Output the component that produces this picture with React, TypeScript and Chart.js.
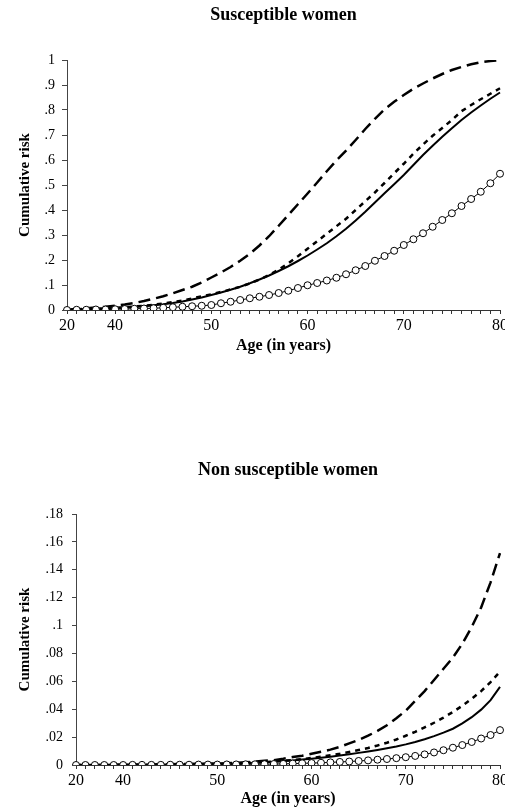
import React, { useEffect, useRef } from "react";
import { Chart, registerables } from "chart.js";

Chart.register(...registerables);

// Categories (ages). The x axis is categorical: 20, then every year 36..80.
const AGES = [
  "20", "36", "37", "38", "39", "40", "41", "42", "43", "44", "45", "46", "47", "48", "49",
  "50", "51", "52", "53", "54", "55", "56", "57", "58", "59", "60", "61", "62", "63", "64",
  "65", "66", "67", "68", "69", "70", "71", "72", "73", "74", "75", "76", "77", "78", "79", "80",
];
const X_TICK_LABELS = ["20", "40", "50", "60", "70", "80"];

// ---- Susceptible women ----
const SUSC_LONG_DASH = [
  0, 0.005, 0.007, 0.01, 0.013, 0.017, 0.022, 0.028, 0.036, 0.045, 0.055, 0.067, 0.08, 0.093, 0.11,
  0.13, 0.15, 0.172, 0.197, 0.225, 0.258, 0.295, 0.337, 0.38, 0.423, 0.466, 0.51, 0.555, 0.598, 0.637,
  0.68, 0.724, 0.765, 0.803, 0.833, 0.86, 0.885, 0.906, 0.926, 0.944, 0.96, 0.972, 0.983, 0.991, 0.996, 0.999,
];
const SUSC_SHORT_DASH = [
  0, 0.003, 0.004, 0.005, 0.007, 0.009, 0.011, 0.014, 0.017, 0.021, 0.026, 0.032, 0.038, 0.046, 0.055,
  0.063, 0.072, 0.082, 0.093, 0.106, 0.122, 0.14, 0.162, 0.187, 0.215, 0.245, 0.275, 0.305, 0.335, 0.365,
  0.4, 0.435, 0.47, 0.508, 0.547, 0.585, 0.625, 0.662, 0.697, 0.728, 0.76, 0.795, 0.82, 0.843, 0.865, 0.887,
];
const SUSC_SOLID = [
  0, 0.003, 0.004, 0.005, 0.006, 0.008, 0.01, 0.012, 0.015, 0.019, 0.023, 0.028, 0.034, 0.042, 0.05,
  0.06, 0.07, 0.081, 0.093, 0.107, 0.122, 0.138, 0.156, 0.175, 0.196, 0.218, 0.242, 0.267, 0.295, 0.325,
  0.358, 0.393, 0.43, 0.467, 0.503, 0.54, 0.58, 0.62, 0.657, 0.693, 0.727, 0.76, 0.79, 0.818, 0.845, 0.87,
];
const SUSC_CIRCLES = [
  0, 0.001, 0.001, 0.002, 0.002, 0.003, 0.004, 0.005, 0.006, 0.007, 0.009, 0.011, 0.013, 0.015, 0.017,
  0.02, 0.027, 0.033, 0.04, 0.047, 0.053, 0.06, 0.068, 0.077, 0.088, 0.099, 0.108, 0.118, 0.129, 0.143,
  0.159, 0.176, 0.197, 0.216, 0.237, 0.26, 0.283, 0.307, 0.333, 0.36, 0.387, 0.416, 0.444, 0.473, 0.507, 0.545,
];

// ---- Non susceptible women ----
const NONSUSC_LONG_DASH = [
  0, 0, 0, 0, 0, 0.0001, 0.0002, 0.0003, 0.0004, 0.0005, 0.0006, 0.0007, 0.0008, 0.0009, 0.001,
  0.0011, 0.0013, 0.0016, 0.002, 0.0025, 0.003, 0.0035, 0.0045, 0.0057, 0.0066, 0.008, 0.0095, 0.011, 0.013, 0.0155,
  0.018, 0.021, 0.0245, 0.0285, 0.0335, 0.039, 0.046, 0.053, 0.061, 0.069, 0.077, 0.087, 0.099, 0.113, 0.131, 0.152,
];
const NONSUSC_SHORT_DASH = [
  0, 0, 0, 0, 0.0001, 0.0001, 0.0001, 0.0002, 0.0002, 0.0003, 0.0003, 0.0004, 0.0005, 0.0006, 0.0007,
  0.0008, 0.001, 0.0012, 0.0014, 0.0017, 0.002, 0.0025, 0.003, 0.0036, 0.0043, 0.005, 0.006, 0.007, 0.008, 0.0093,
  0.0107, 0.0122, 0.014, 0.016, 0.0183, 0.021, 0.0238, 0.027, 0.0303, 0.034, 0.038, 0.0425, 0.0475, 0.053, 0.0595, 0.067,
];
const NONSUSC_SOLID = [
  0, 0, 0, 0, 0.0001, 0.0001, 0.0001, 0.0002, 0.0002, 0.0003, 0.0003, 0.0004, 0.0005, 0.0006, 0.0007,
  0.0008, 0.0009, 0.0011, 0.0013, 0.0016, 0.002, 0.0024, 0.0028, 0.0033, 0.0039, 0.0045, 0.0052, 0.006, 0.0068, 0.0077,
  0.0087, 0.0097, 0.0108, 0.012, 0.0133, 0.0148, 0.0165, 0.0185, 0.0207, 0.0232, 0.026, 0.0298, 0.0343, 0.0397, 0.0465, 0.056,
];
const NONSUSC_CIRCLES = [
  0, 0, 0, 0, 0, 0, 0.0001, 0.0001, 0.0001, 0.0001, 0.0002, 0.0002, 0.0002, 0.0003, 0.0003,
  0.0003, 0.0004, 0.0004, 0.0005, 0.0005, 0.0006, 0.0007, 0.0008, 0.001, 0.0012, 0.0014, 0.0016, 0.0019, 0.0022, 0.0025,
  0.0029, 0.0033, 0.0038, 0.0043, 0.0049, 0.0056, 0.0065, 0.0076, 0.009, 0.0106, 0.0124, 0.0143, 0.0165, 0.019, 0.0215, 0.025,
];

const SERIF = '"Liberation Serif", "Times New Roman", Times, serif';

type Panel = {
  title: string;
  longDash: number[];
  shortDash: number[];
  solid: number[];
  circles: number[];
  yMax: number;
  yStep: number;
  titleTop: number;
  titleBottom: number;
  yAxisWidth: number;
  yTickLen: number;
  yTickPad: number;
  xAxisHeight: number;
  xTitleBottom: number;
};

function fmtTick(v: number): string {
  if (Math.abs(v) < 1e-9) return "0";
  if (Math.abs(v - 1) < 1e-9) return "1";
  return String(parseFloat(Number(v).toFixed(3))).replace(/^0/, "");
}

function buildConfig(p: Panel): any {
  return {
    type: "line",
    data: {
      labels: AGES,
      datasets: [
        {
          data: p.circles,
          borderColor: "#000",
          borderWidth: 1,
          pointRadius: 3.5,
          pointStyle: "circle",
          pointBackgroundColor: "#fff",
          pointBorderColor: "#000",
          pointBorderWidth: 1,
          tension: 0,
          fill: false,
        },
        {
          data: p.solid,
          borderColor: "#000",
          borderWidth: 2,
          pointRadius: 0,
          tension: 0,
          fill: false,
        },
        {
          data: p.shortDash,
          borderColor: "#000",
          borderWidth: 2.5,
          borderDash: [5, 5],
          pointRadius: 0,
          tension: 0,
          fill: false,
        },
        {
          data: p.longDash,
          borderColor: "#000",
          borderWidth: 2.5,
          borderDash: [12, 6],
          pointRadius: 0,
          tension: 0,
          fill: false,
        },
      ],
    },
    options: {
      animation: false,
      responsive: false,
      maintainAspectRatio: false,
      events: [],
      layout: { padding: { left: 0, right: 5, top: 0, bottom: 0 } },
      plugins: {
        legend: { display: false },
        tooltip: { enabled: false },
        title: {
          display: true,
          fullSize: false,
          text: p.title,
          color: "#000",
          font: { family: SERIF, size: 18, weight: "bold", lineHeight: 1.2 },
          padding: { top: p.titleTop, bottom: p.titleBottom },
        },
      },
      scales: {
        x: {
          type: "category",
          offset: false,
          grid: {
            drawOnChartArea: false,
            drawTicks: true,
            tickLength: 4,
            color: "#333",
            lineWidth: 1,
          },
          border: { display: true, color: "#333", width: 1 },
          ticks: {
            autoSkip: false,
            maxRotation: 0,
            minRotation: 0,
            padding: 2,
            color: "#000",
            font: { family: SERIF, size: 16 },
            callback: (_v: any, i: number) => (X_TICK_LABELS.includes(AGES[i]) ? AGES[i] : ""),
          },
          title: {
            display: true,
            text: "Age (in years)",
            color: "#000",
            font: { family: SERIF, size: 16, weight: "bold", lineHeight: 1.2 },
            padding: { top: 0, bottom: p.xTitleBottom },
          },
          afterFit: (s: any) => {
            s.height = p.xAxisHeight;
            s.paddingLeft = 0;
            s.paddingRight = 0;
          },
        },
        y: {
          min: 0,
          max: p.yMax,
          grid: {
            drawOnChartArea: false,
            drawTicks: true,
            tickLength: p.yTickLen,
            color: "#444",
            lineWidth: 1,
          },
          border: { display: true, color: "#444", width: 1 },
          ticks: {
            stepSize: p.yStep,
            padding: p.yTickPad,
            color: "#000",
            font: { family: SERIF, size: 14 },
            callback: (v: any) => fmtTick(Number(v)),
          },
          title: {
            display: true,
            text: "Cumulative risk",
            color: "#000",
            font: { family: SERIF, size: 15, weight: "bold", lineHeight: 1.2 },
            padding: { top: 16, bottom: 0 },
          },
          afterFit: (s: any) => {
            s.width = p.yAxisWidth;
            s.paddingTop = 0;
            s.paddingBottom = 0;
          },
        },
      },
    },
  };
}

const TOP_PANEL: Panel = {
  title: "Susceptible women",
  longDash: SUSC_LONG_DASH,
  shortDash: SUSC_SHORT_DASH,
  solid: SUSC_SOLID,
  circles: SUSC_CIRCLES,
  yMax: 1,
  yStep: 0.1,
  titleTop: 5,
  titleBottom: 33.4,
  yAxisWidth: 67,
  yTickLen: 5,
  yTickPad: 7,
  xAxisHeight: 95,
  xTitleBottom: 50,
};

const BOTTOM_PANEL: Panel = {
  title: "Non susceptible women",
  longDash: NONSUSC_LONG_DASH,
  shortDash: NONSUSC_SHORT_DASH,
  solid: NONSUSC_SOLID,
  circles: NONSUSC_CIRCLES,
  yMax: 0.18,
  yStep: 0.02,
  titleTop: 54.2,
  titleBottom: 33.2,
  yAxisWidth: 76,
  yTickLen: 4,
  yTickPad: 9,
  xAxisHeight: 45,
  xTitleBottom: 2,
};

function RiskChart({ panel }: { panel: Panel }) {
  const ref = useRef<HTMLCanvasElement | null>(null);
  useEffect(() => {
    if (!ref.current) return;
    const chart = new Chart(ref.current, buildConfig(panel));
    return () => chart.destroy();
  }, [panel]);
  return <canvas ref={ref} width={505} height={405} style={{ display: "block", width: 505, height: 405 }} />;
}

export default function App() {
  return (
    <div style={{ position: "absolute", left: 0, top: 0, width: 505, height: 810, background: "#fff" }}>
      <RiskChart panel={TOP_PANEL} />
      <RiskChart panel={BOTTOM_PANEL} />
    </div>
  );
}
